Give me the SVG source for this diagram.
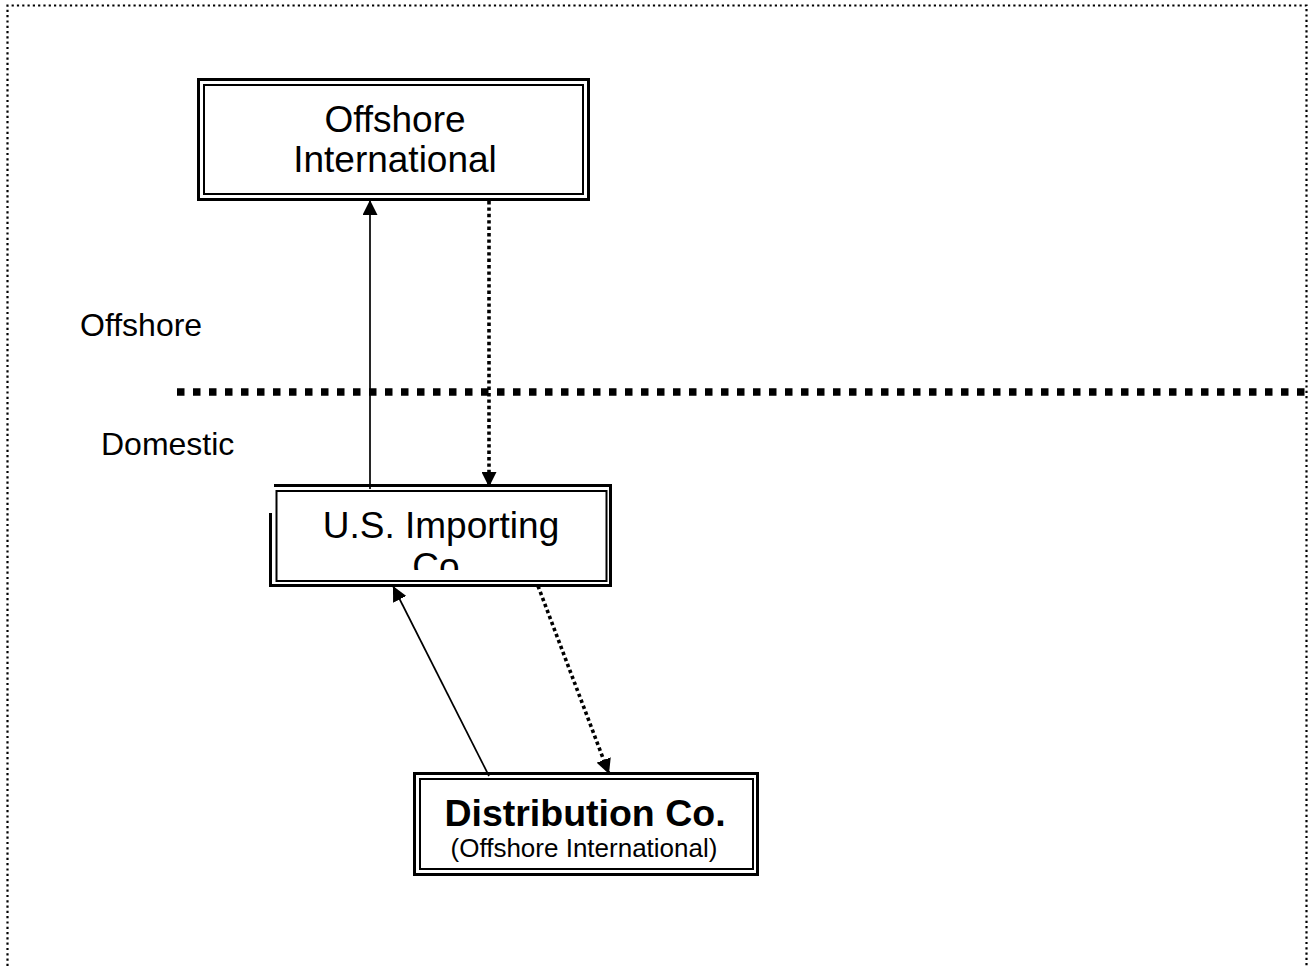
<svg xmlns="http://www.w3.org/2000/svg" width="1308" height="966" viewBox="0 0 1308 966">
  <style>
    text { font-family: "Liberation Sans", Arial, sans-serif; fill: #000; }
    .outer { fill: none; stroke: #000; stroke-width: 3; }
    .inner { fill: none; stroke: #000; stroke-width: 2; }
    .solid { fill: none; stroke: #000; stroke-width: 1.7; }
    .dotted { fill: none; stroke: #000; stroke-width: 3.6; stroke-dasharray: 3.4 3; }
    .big { font-size: 37px; text-anchor: middle; }
    .label { font-size: 32px; }
  </style>
  <defs>
    <marker id="head" viewBox="0 0 15 15" refX="15" refY="7.5" markerWidth="15" markerHeight="15" markerUnits="userSpaceOnUse" orient="auto">
      <path d="M0,0 L15,7.5 L0,15 Z" fill="#000"/>
    </marker>
    <clipPath id="importClip">
      <rect x="276" y="491" width="330" height="79"/>
    </clipPath>
  </defs>

  <!-- page frame, open at the bottom -->
  <path d="M7.5,966 V5.5 H1306.5 V966" fill="none" stroke="#000" stroke-width="2.2" stroke-dasharray="2.2 3.1"/>

  <!-- offshore / domestic boundary -->
  <line x1="177" y1="392" x2="1306" y2="392" stroke="#000" stroke-width="7.5" stroke-dasharray="7.5 8.5"/>

  <g id="label-offshore">
    <text class="label" x="80" y="336">Offshore</text>
  </g>
  <g id="label-domestic">
    <text class="label" x="101" y="455">Domestic</text>
  </g>

  <g id="node-offshore-international">
    <rect class="outer" x="198.5" y="79.5" width="390" height="120"/>
    <rect class="inner" x="204" y="85" width="379" height="109"/>
    <text class="big" x="395" y="131.5">Offshore</text>
    <text class="big" x="395" y="172">International</text>
  </g>

  <g id="node-us-importing">
    <path class="outer" d="M274,485.5 H610.5 V585.5 H270.5 V513"/>
    <rect class="inner" x="276.5" y="491" width="330" height="90"/>
    <g clip-path="url(#importClip)">
      <text class="big" x="441" y="537.5">U.S. Importing</text>
      <text class="big" x="441" y="578.5">Co.</text>
    </g>
  </g>

  <g id="node-distribution">
    <rect class="outer" x="414.5" y="773.5" width="343" height="101"/>
    <rect class="inner" x="420" y="779" width="333" height="90"/>
    <text x="585" y="825.5" font-size="37.5" font-weight="bold" text-anchor="middle">Distribution Co.</text>
    <text x="584" y="857" font-size="26" text-anchor="middle">(Offshore International)</text>
  </g>

  <g id="connectors">
    <line class="solid" x1="370" y1="489" x2="370" y2="200" marker-end="url(#head)"/>
    <line class="dotted" x1="489" y1="201" x2="489" y2="487" marker-end="url(#head)"/>
    <line class="solid" x1="489" y1="776" x2="393" y2="586" marker-end="url(#head)"/>
    <line class="dotted" x1="538" y1="586" x2="609" y2="774" marker-end="url(#head)"/>
  </g>
</svg>
